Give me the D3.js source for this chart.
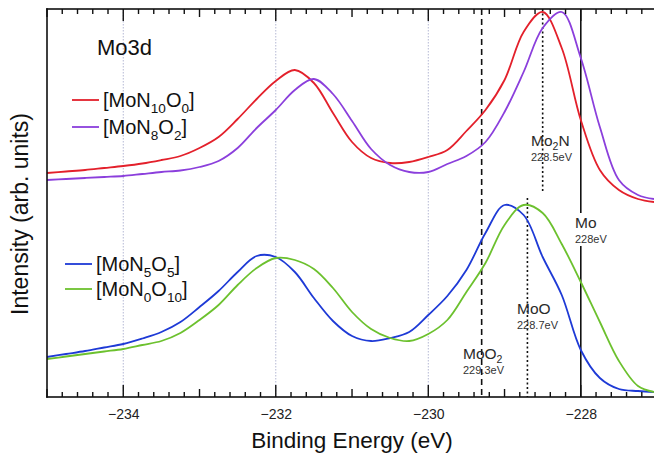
<!DOCTYPE html>
<html>
<head>
<meta charset="utf-8">
<script src="https://cdnjs.cloudflare.com/ajax/libs/d3/7.8.5/d3.min.js"></script>
<style>
  body { margin: 0; background: #fff; }
  svg { display: block; font-family: "Liberation Sans", Arial, sans-serif; }
</style>
</head>
<body>
<div id="chart"></div>
<script>
// binding energy (eV) sample positions, shared by every spectrum
const energy = [-235, -234.75, -234.5, -234.25, -234, -233.75, -233.5, -233.25, -233, -232.75,
    -232.5, -232.25, -232, -231.75, -231.5, -231.25, -231, -230.75, -230.5, -230.25,
    -230, -229.75, -229.5, -229.25, -229, -228.75, -228.5, -228.25, -228, -227.75,
    -227.5, -227.25, -227.04];

// intensities in arb. units (offset stacked as in the figure)
const moN10O0 = [224, 225.5, 227, 229, 231, 233.5, 237, 241, 249, 260,
    278, 298, 316, 327, 314, 284, 255, 239, 234, 235,
    240, 247, 266, 287, 317, 365, 385, 349, 277, 227,
    207, 198, 195];
const moN8O2 = [217, 218, 219, 220, 221, 223, 225, 226.5, 230, 236,
    249, 269, 287, 307, 318, 303, 276, 248, 232, 225,
    225, 233, 241, 255, 285, 325, 369, 385, 339, 270,
    217, 202, 198];
const moN5O5 = [40, 43, 46, 49.5, 53, 58.5, 65, 75, 90, 106,
    125, 141, 140, 125, 99, 76, 61, 56, 59, 65,
    82, 101, 127, 164, 192, 182, 140, 102, 47, 19,
    8, 6, 5];
const moN0O10 = [38, 40.5, 43, 45.5, 48, 52, 56, 64, 77, 92,
    112, 129, 139, 137, 128, 109, 85, 68, 59, 56,
    63, 77, 105, 134, 172, 192, 184, 153, 115, 75,
    36, 11, 5];

const seriesNames = [
    [["[MoN"], ["10", 1], ["O"], ["0", 1], ["]"]],
    [["[MoN"], ["8", 1], ["O"], ["2", 1], ["]"]],
    [["[MoN"], ["5", 1], ["O"], ["5", 1], ["]"]],
    [["[MoN"], ["0", 1], ["O"], ["10", 1], ["]"]]
];
const seriesValues = [moN10O0, moN8O2, moN5O5, moN0O10];
const seriesColors = ["#e3202b", "#8b3fdc", "#1e3ad6", "#6cc12e"];

// reference binding energies
const refNames = [[["MoO"], ["2", 1]], [["MoO"]], [["Mo"], ["2", 1], ["N"]], [["Mo"]]];
const refEnergy = [-229.3, -228.7, -228.5, -228];
const refText = ["229.3eV", "228.7eV", "228.5eV", "228eV"];

const gridTicks = [-234, -232, -230];
const majorTicks = [-234, -232, -230, -228];

const width = 654, height = 462;
const mLeft = 47, mRight = 654, mTop = 9, mBottom = 397;

const x = d3.scaleLinear().domain([-235, -227.04]).range([mLeft, mRight]);
const y = d3.scaleLinear().domain([0, 388]).range([mBottom, mTop]);

const svg = d3.select("#chart").append("svg")
    .attr("width", width)
    .attr("height", height);

// write text with subscripts
function richText(sel, parts, size) {
    let wasSub = false;
    parts.forEach(p => {
        const ts = sel.append("tspan").text(p[0]);
        if (p[1]) {
            ts.attr("font-size", size * 0.68).attr("dy", size * 0.28);
            wasSub = true;
        } else if (wasSub) {
            ts.attr("dy", -size * 0.28);
            wasSub = false;
        }
    });
}

// dotted grid
svg.append("g")
    .selectAll("line")
    .data(gridTicks)
    .enter().append("line")
    .attr("x1", d => x(d)).attr("x2", d => x(d))
    .attr("y1", mTop).attr("y2", mBottom)
    .attr("stroke", "#b4b8d4")
    .attr("stroke-width", 1)
    .attr("stroke-dasharray", "1.5,1.5");

// reference lines
const refLines = [
    { e: -229.3, y1: mTop, y2: mBottom, dash: "6,4" },
    { e: -228.7, y1: 198, y2: mBottom, dash: "2,2.5" },
    { e: -228.5, y1: mTop, y2: 192, dash: "2,2.5" },
    { e: -228, y1: mTop, y2: 213, dash: null },
    { e: -228, y1: 246, y2: mBottom, dash: null }
];
svg.append("g")
    .selectAll("line")
    .data(refLines)
    .enter().append("line")
    .attr("x1", d => x(d.e)).attr("x2", d => x(d.e))
    .attr("y1", d => d.y1).attr("y2", d => d.y2)
    .attr("stroke", "#111")
    .attr("stroke-width", 1.6)
    .attr("stroke-dasharray", d => d.dash);

// spectra
const line = d3.line()
    .x((d, i) => x(energy[i]))
    .y(d => y(d))
    .curve(d3.curveCatmullRom.alpha(0.5));

svg.append("g")
    .selectAll("path")
    .data(seriesValues)
    .enter().append("path")
    .attr("fill", "none")
    .attr("stroke", (d, i) => seriesColors[i])
    .attr("stroke-width", 1.8)
    .attr("d", d => line(d));

// reference labels
const refLabelPos = [
    { x: 463, y: 359 },
    { x: 517, y: 314 },
    { x: 531, y: 146 },
    { x: 575, y: 228 }
];
refNames.forEach((name, i) => {
    const p = refLabelPos[i];
    const t = svg.append("text")
        .attr("x", p.x)
        .attr("y", p.y)
        .attr("font-size", 15.5)
        .attr("fill", "#2a2a2a");
    richText(t, name, 15.5);
    svg.append("text")
        .attr("x", p.x)
        .attr("y", p.y + 15)
        .attr("font-size", 11)
        .attr("fill", "#333")
        .text(refText[i]);
});

const labelAxis = svg.append("g")
    .attr("transform", `translate(0,${mBottom})`)
    .call(d3.axisBottom(x).tickValues(majorTicks).tickSize(0).tickPadding(12));
labelAxis.select(".domain").remove();
labelAxis.selectAll("text")
    .attr("font-family", "Liberation Sans, Arial, sans-serif")
    .attr("font-size", 14)
    .attr("fill", "#222");

svg.append("text")
    .attr("x", 352)
    .attr("y", 448)
    .attr("text-anchor", "middle")
    .attr("font-size", 22.5)
    .attr("fill", "#111")
    .text("Binding Energy (eV)");

svg.append("text")
    .attr("transform", "translate(28,214) rotate(-90)")
    .attr("text-anchor", "middle")
    .attr("font-size", 23)
    .attr("fill", "#111")
    .text("Intensity (arb. units)");

// panel title
svg.append("text")
    .attr("x", 97)
    .attr("y", 55)
    .attr("font-size", 22)
    .attr("fill", "#111")
    .text("Mo3d");

// legends
const legendPos = [
    { x: 72, y: 100 },
    { x: 72, y: 127 },
    { x: 65, y: 264 },
    { x: 65, y: 289 }
];
seriesNames.forEach((name, i) => {
    const p = legendPos[i];
    svg.append("line")
        .attr("x1", p.x).attr("x2", p.x + 27)
        .attr("y1", p.y).attr("y2", p.y)
        .attr("stroke", seriesColors[i])
        .attr("stroke-width", 1.8);
    const t = svg.append("text")
        .attr("x", p.x + 31)
        .attr("y", p.y + 7)
        .attr("font-size", 20)
        .attr("fill", "#111");
    richText(t, name, 20);
});

// frame and ticks (every 0.2 eV, mirrored on top) as filled rects, drawn last
const minorTicks = d3.range(0, 40).map(k => +(-235 + k * 0.2).toFixed(1));
function tickLen(v) {
    if (Math.abs(v - Math.round(v)) > 0.01) return 5;
    return Math.round(v) % 2 === 0 ? 12 : 8;
}

const axisMarks = svg.append("g").attr("fill", "#111");
// frame edges: top, bottom, left
axisMarks.append("rect").attr("x", mLeft - 0.8).attr("y", mTop - 0.8)
    .attr("width", mRight - mLeft + 0.8).attr("height", 1.6);
axisMarks.append("rect").attr("x", mLeft - 0.8).attr("y", mBottom - 0.8)
    .attr("width", mRight - mLeft + 0.8).attr("height", 1.6);
axisMarks.append("rect").attr("x", mLeft - 0.8).attr("y", mTop - 0.8)
    .attr("width", 1.6).attr("height", mBottom - mTop + 1.6);

axisMarks.append("g")
    .selectAll("rect")
    .data(minorTicks)
    .enter().append("rect")
    .attr("x", d => x(d) - 0.7)
    .attr("y", d => mBottom - tickLen(d))
    .attr("width", 1.4)
    .attr("height", d => tickLen(d));

axisMarks.append("g")
    .selectAll("rect")
    .data(minorTicks)
    .enter().append("rect")
    .attr("x", d => x(d) - 0.7)
    .attr("y", mTop)
    .attr("width", 1.4)
    .attr("height", d => tickLen(d));
</script>
</body>
</html>
